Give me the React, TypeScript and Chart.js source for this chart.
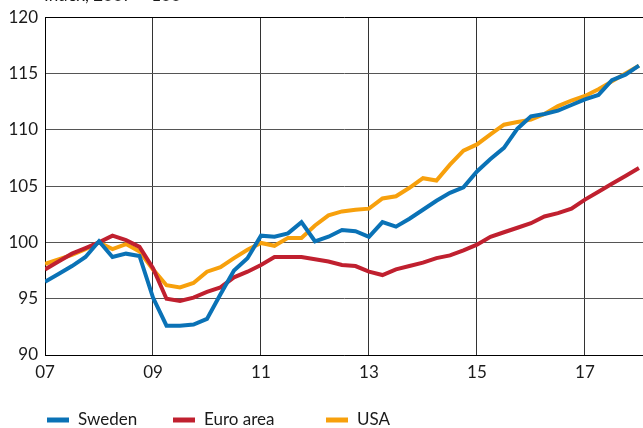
import React, { useEffect, useRef } from "react";
import { Chart, registerables } from "chart.js";

Chart.register(...registerables);

const titleText = "Index, 2007 = 100";
const seriesNames = ["Sweden", "Euro area", "USA"];
const seriesColors = ["#0a72b6", "#c0202f", "#f7a00c"];
const xTickPositions = [0, 8, 16, 24, 32, 40];
const xTickLabels = ["07", "09", "11", "13", "15", "17"];
const yTicks = [90, 95, 100, 105, 110, 115, 120];

const sweden = [96.5, 97.2, 97.9, 98.7, 100.1, 98.7, 99.0, 98.8, 95.1, 92.6, 92.6, 92.7, 93.2, 95.4, 97.5, 98.6, 100.6, 100.5, 100.8, 101.8, 100.1, 100.5, 101.1, 101.0, 100.5, 101.8, 101.4, 102.1, 102.9, 103.7, 104.4, 104.9, 106.3, 107.4, 108.4, 110.1, 111.2, 111.4, 111.7, 112.2, 112.7, 113.1, 114.4, 114.9, 115.7];
const euroArea = [97.6, 98.3, 99.0, 99.5, 100.0, 100.6, 100.2, 99.6, 97.7, 95.0, 94.8, 95.1, 95.6, 96.0, 96.9, 97.4, 98.0, 98.7, 98.7, 98.7, 98.5, 98.3, 98.0, 97.9, 97.4, 97.1, 97.6, 97.9, 98.2, 98.6, 98.85, 99.3, 99.8, 100.5, 100.9, 101.3, 101.7, 102.3, 102.6, 103.0, 103.8, 104.5, 105.2, 105.9, 106.6];
const usa = [98.1, 98.5, 98.9, 99.4, 100.0, 99.4, 99.85, 99.2, 97.6, 96.2, 96.0, 96.4, 97.4, 97.8, 98.6, 99.35, 99.95, 99.7, 100.4, 100.4, 101.5, 102.4, 102.75, 102.9, 103.0, 103.9, 104.1, 104.85, 105.7, 105.5, 106.9, 108.15, 108.7, 109.6, 110.45, 110.7, 110.9, 111.4, 112.1, 112.6, 113.0, 113.6, 114.3, 115.0, 115.7];

const FONT = "Lato, 'Open Sans', sans-serif";

const extrasPlugin = {
  id: "extras",
  afterDraw(chart: any) {
    const ctx = chart.ctx;
    const area = chart.chartArea;
    ctx.save();
    // partially visible title
    ctx.fillStyle = "#1a1a1a";
    ctx.font = `17px ${FONT}`;
    ctx.textAlign = "left";
    ctx.textBaseline = "alphabetic";
    ctx.fillText(titleText, area.left - 1, 1);
    // legend
    const legendX = [47, 173, 326];
    const legendY = 420;
    seriesNames.forEach((name, i) => {
      ctx.strokeStyle = seriesColors[i];
      ctx.lineWidth = 5;
      ctx.beginPath();
      ctx.moveTo(legendX[i], legendY);
      ctx.lineTo(legendX[i] + 22, legendY);
      ctx.stroke();
      ctx.fillStyle = "#1a1a1a";
      ctx.textBaseline = "middle";
      ctx.fillText(name, legendX[i] + 31, legendY);
    });
    ctx.restore();
  },
};

export default function App() {
  const ref = useRef<HTMLCanvasElement | null>(null);

  useEffect(() => {
    if (!ref.current) return;
    const series = [sweden, euroArea, usa];
    const chart = new Chart(ref.current, {
      type: "line",
      data: {
        datasets: series.map((vals, i) => ({
          label: seriesNames[i],
          data: vals.map((v, q) => ({ x: q, y: v })),
          borderColor: seriesColors[i],
          backgroundColor: seriesColors[i],
          borderWidth: 4,
          pointRadius: 0,
          tension: 0,
          borderJoinStyle: "miter" as const,
        })),
      },
      options: {
        animation: false,
        responsive: false,
        maintainAspectRatio: false,
        layout: { padding: { top: 15, left: 0, right: 0, bottom: 0 } },
        plugins: { legend: { display: false }, tooltip: { enabled: false } },
        scales: {
          x: {
            type: "linear",
            min: 0,
            max: 44.3,
            afterBuildTicks: (axis: any) => {
              axis.ticks = xTickPositions.map((v) => ({ value: v }));
            },
            afterFit: (axis: any) => {
              axis.height = 73;
            },
            ticks: {
              autoSkip: false,
              maxRotation: 0,
              padding: 7,
              color: "#1a1a1a",
              font: { family: FONT, size: 17 },
              callback: (v: any) => {
                const idx = xTickPositions.indexOf(Number(v));
                return idx >= 0 ? xTickLabels[idx] : "";
              },
            },
            grid: { color: "#333", lineWidth: 1, drawTicks: false },
            border: { color: "#000", width: 1 },
          },
          y: {
            min: 90,
            max: 120,
            afterBuildTicks: (axis: any) => {
              axis.ticks = yTicks.map((v) => ({ value: v }));
            },
            afterFit: (axis: any) => {
              axis.width = 45;
            },
            ticks: {
              padding: 7,
              color: "#1a1a1a",
              font: { family: FONT, size: 17 },
            },
            grid: {
              drawTicks: false,
              color: (c: any) => (c.tick && c.tick.value === 120 ? "#000" : "#555"),
              lineWidth: 1,
            },
            border: { color: "#000", width: 1 },
          },
        },
      },
      plugins: [extrasPlugin],
    });
    return () => chart.destroy();
  }, []);

  return (
    <div style={{ position: "absolute", left: 0, top: 0, width: 643, height: 428, background: "#fff" }}>
      <canvas ref={ref} width={643} height={428} style={{ display: "block", width: 643, height: 428 }} />
    </div>
  );
}
